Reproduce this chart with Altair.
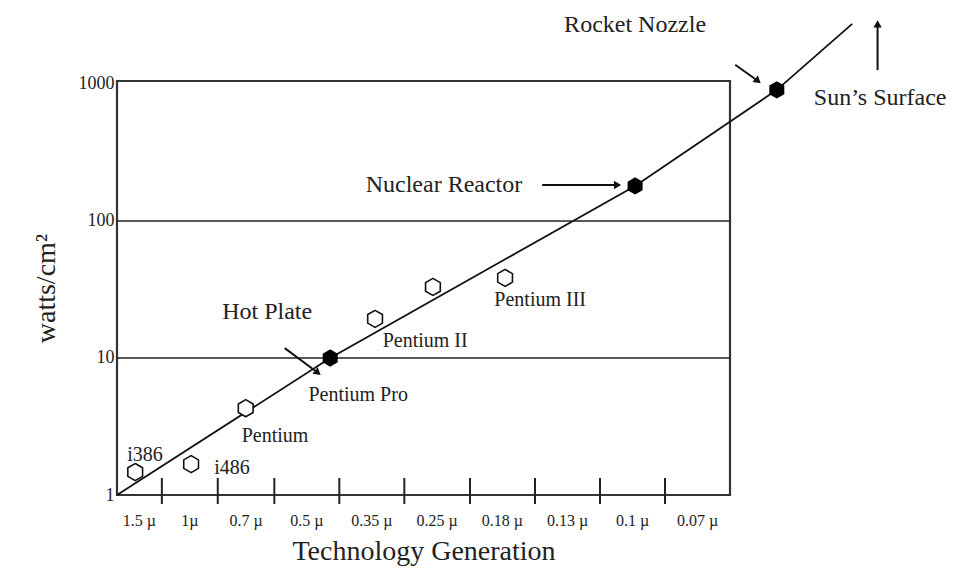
import altair as alt
import pandas as pd

# ---- data (x in "generation" units, y in watts/cm^2) ----
gen_labels = ["1.5 µ", "1µ", "0.7 µ", "0.5 µ", "0.35 µ", "0.25 µ", "0.18 µ", "0.13 µ", "0.1 µ", "0.07 µ"]
gen_bounds = [0.0, 0.69, 1.55, 2.42, 3.42, 4.42, 5.43, 6.43, 7.43, 8.43, 9.43]

chip_x = [0.28, 1.14, 1.98, 3.97, 4.86, 5.97]
chip_y = [1.47, 1.68, 4.3, 19.3, 33.0, 38.4]

ref_names = ["Hot Plate", "Nuclear Reactor", "Rocket Nozzle"]
ref_x = [3.28, 7.97, 10.15]
ref_y = [10.0, 180.0, 904.0]

trend_x = [0.0, 3.28, 7.97, 10.15, 11.31]
trend_y = [1.0, 10.0, 180.0, 904.0, 2740.0]

grid_y = [10, 100]

# text labels
lab_text = ["i386", "i486", "Pentium", "Pentium Pro", "Pentium II", "Pentium III"]
lab_x = [0.43, 1.77, 2.43, 3.71, 4.74, 6.51]
lab_y = [1.96, 1.57, 2.70, 5.37, 13.3, 26.5]

ann_text = ["Hot Plate", "Nuclear Reactor", "Rocket Nozzle", "Sun\u2019s Surface"]
ann_x = [2.31, 5.03, 7.97, 11.74]
ann_y = [21.7, 182.0, 2698.0, 791.0]

# arrows: start -> end (data units), head angle
arr_x = [2.58, 6.54, 9.51, 11.70]
arr_y = [11.8, 183.0, 1380.0, 1260.0]
arr_x2 = [3.09, 7.70, 9.86, 11.70]
arr_y2 = [7.8, 183.0, 1050.0, 2740.0]
arr_angle = [129, 90, 130, 0]

W, H = 613, 414
serif = "Liberation Serif"
ink = "#222222"

xs = alt.Scale(domain=[0, 9.43], nice=False, zero=False)
ys = alt.Scale(type="log", domain=[1, 1050], nice=False)

centers = [(gen_bounds[i] + gen_bounds[i + 1]) / 2 for i in range(len(gen_labels))]
df_gen = pd.DataFrame({"x": centers, "label": gen_labels, "y": [1] * len(gen_labels)})
df_ticks = pd.DataFrame({"x": gen_bounds[1:-1]})
df_chip = pd.DataFrame({"x": chip_x, "y": chip_y})
df_ref = pd.DataFrame({"x": ref_x, "y": ref_y, "name": ref_names})
df_trend = pd.DataFrame({"x": trend_x, "y": trend_y, "o": range(len(trend_x))})
df_grid = pd.DataFrame({"y": grid_y})
df_lab = pd.DataFrame({"x": lab_x, "y": lab_y, "t": lab_text})
df_ann = pd.DataFrame({"x": ann_x, "y": ann_y, "t": ann_text})
df_arr = pd.DataFrame({"x": arr_x, "y": arr_y, "x2": arr_x2, "y2": arr_y2, "a": arr_angle})

X = alt.X("x:Q", scale=xs, axis=alt.Axis(title="Technology Generation", labels=False, ticks=False,
                                          domain=False, grid=False, titleFont=serif, titleFontSize=28,
                                          titleFontWeight="normal", titleColor=ink, titlePadding=42))
Y = alt.Y("y:Q", scale=ys, axis=alt.Axis(title="watts/cm\u00b2", values=[1, 10, 100, 1000], format="d",
                                          ticks=False, domain=False, grid=False, labelFont=serif,
                                          labelFontSize=18, labelColor=ink, labelPadding=3,
                                          titleFont=serif, titleFontSize=28, titleFontWeight="normal",
                                          titleColor=ink, titlePadding=18))

base_x = alt.X("x:Q", scale=xs)
base_y = alt.Y("y:Q", scale=ys)

grid = alt.Chart(df_grid).mark_rule(color="#222", strokeWidth=1.5).encode(
    y=alt.Y("y:Q", scale=ys), x=alt.value(0), x2=alt.value(W))

ticks = alt.Chart(df_ticks).mark_rule(color="#222", strokeWidth=2).encode(
    x=base_x, y=alt.value(H - 17), y2=alt.value(H + 9))

gen_text = alt.Chart(df_gen).mark_text(font=serif, fontSize=16, color=ink, dy=26, baseline="middle").encode(
    x=base_x, y=base_y, text="label:N")

trend = alt.Chart(df_trend).mark_line(color="#111", strokeWidth=1.8, clip=False).encode(
    x=X, y=Y, order="o:Q")

hexagon = "M0,-1L0.866,-0.5L0.866,0.5L0,1L-0.866,0.5L-0.866,-0.5Z"
chips = alt.Chart(df_chip).mark_point(shape=hexagon, size=290, filled=False, color="#111",
                                      fill="white", fillOpacity=1, strokeWidth=1.6).encode(x=base_x, y=base_y)
refs = alt.Chart(df_ref).mark_point(shape=hexagon, size=300, filled=True, color="#000",
                                    opacity=1, clip=False).encode(x=base_x, y=base_y)

labs = alt.Chart(df_lab).mark_text(font=serif, fontSize=20, color=ink).encode(x=base_x, y=base_y, text="t:N")
anns = alt.Chart(df_ann).mark_text(font=serif, fontSize=24, color=ink, clip=False).encode(
    x=base_x, y=base_y, text="t:N")

arr_lines = alt.Chart(df_arr).mark_rule(color="#111", strokeWidth=2, clip=False).encode(
    x=base_x, y=base_y, x2="x2:Q", y2="y2:Q")
arr_heads = alt.Chart(df_arr).mark_point(shape="triangle-up", size=70, filled=True, color="#111",
                                         opacity=1, clip=False).encode(
    x=alt.X("x2:Q", scale=xs), y=alt.Y("y2:Q", scale=ys), angle=alt.Angle("a:Q", scale=None))

chart = alt.layer(trend, grid, ticks, gen_text, chips, refs, labs, anns, arr_lines, arr_heads).properties(
    width=W, height=H,
    autosize=alt.AutoSizeParams(type="none"),
    padding={"left": 109, "top": 73, "right": 220, "bottom": 74},
    background="white",
).configure_view(stroke="#333", strokeWidth=2.2)

chart.save("out.html", embed_options={"renderer": "svg", "actions": False})
